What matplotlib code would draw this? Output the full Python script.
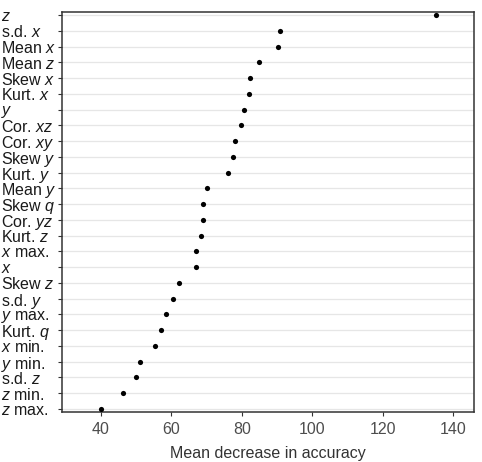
import matplotlib
matplotlib.use("Agg")
import matplotlib.pyplot as plt

plt.rcParams['font.family'] = ['Liberation Sans', 'DejaVu Sans']
plt.rcParams['mathtext.fontset'] = 'custom'
plt.rcParams['mathtext.rm'] = 'Liberation Sans'
plt.rcParams['mathtext.it'] = 'Liberation Sans:italic'

# features, bottom to top
labels = ['$z$ max.', '$z$ min.', 's.d. $z$', '$y$ min.', '$x$ min.', 'Kurt. $q$',
          '$y$ max.', 's.d. $y$', 'Skew $z$', '$x$', '$x$ max.', 'Kurt. $z$',
          'Cor. $yz$', 'Skew $q$', 'Mean $y$', 'Kurt. $y$', 'Skew $y$', 'Cor. $xy$',
          'Cor. $xz$', '$y$', 'Kurt. $x$', 'Skew $x$', 'Mean $z$', 'Mean $x$',
          's.d. $x$', '$z$']
values = [40.0, 46.3, 50.0, 51.1, 55.4, 57.1,
          58.5, 60.5, 62.1, 67.0, 67.0, 68.3,
          68.9, 69.0, 70.0, 76.0, 77.6, 78.1,
          79.8, 80.6, 82.0, 82.3, 85.0, 90.4,
          90.9, 135.3]
xticks = [40, 60, 80, 100, 120, 140]

fig = plt.figure(figsize=(4.82, 4.62), dpi=100)
ax = fig.add_axes([0.1286, 0.1082, 0.8548, 0.8658])

pos = list(range(len(labels)))
for p in pos:
    ax.axhline(p, color='#e6e6e6', lw=0.9, zorder=0)
ax.scatter(values, pos, s=14, color='black', zorder=3, linewidths=0)

ax.set_xlim(28.9, 146)
ax.set_ylim(-0.2, len(labels) - 0.8)
ax.set_xticks(xticks)
ax.set_yticks(pos)
ax.set_yticklabels(labels)
ax.set_xlabel('Mean decrease in accuracy', fontsize=11.5, color='#333333', labelpad=7)

ax.tick_params(axis='x', length=3, width=0.8, color='#333333', labelsize=11.5,
               labelcolor='#4d4d4d', pad=4)
ax.tick_params(axis='y', length=3, width=0.8, color='#333333', labelsize=11.5,
               labelcolor='#1a1a1a', pad=41)
for lab in ax.get_yticklabels():
    lab.set_horizontalalignment('left')

for s in ax.spines.values():
    s.set_color('#333333')
    s.set_linewidth(1.1)

fig.savefig('out.png', dpi=100)
